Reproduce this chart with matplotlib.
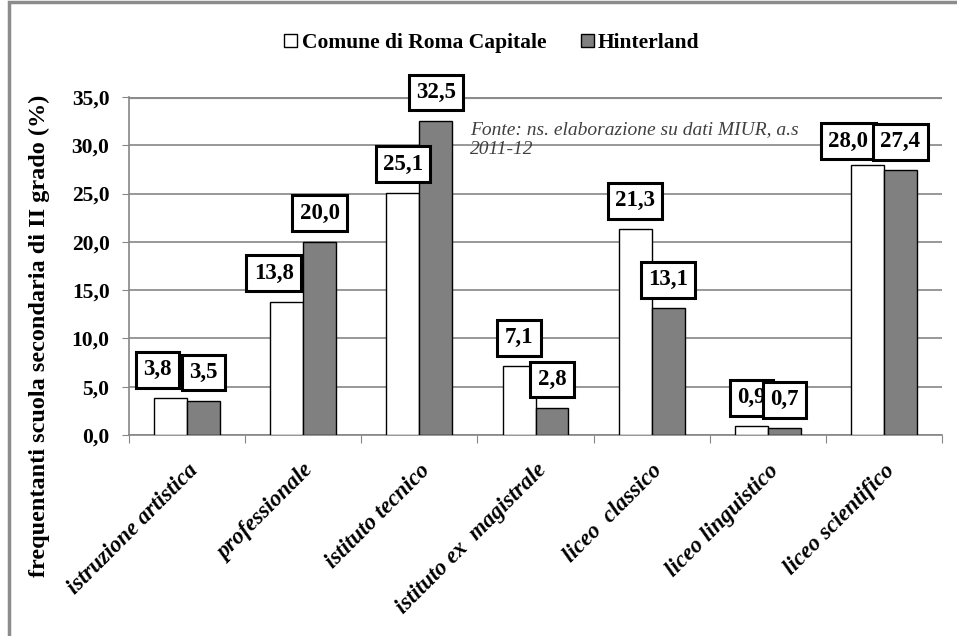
import matplotlib
matplotlib.use("Agg")
import matplotlib.pyplot as plt
from matplotlib.patches import Patch, Rectangle

# dati (ns. elaborazione su dati MIUR, a.s. 2011-12)
categorie = ["istruzione artistica", "professionale", "istituto tecnico",
             "istituto ex  magistrale", "liceo  classico", "liceo linguistico",
             "liceo scientifico"]
roma = [3.8, 13.8, 25.1, 7.1, 21.3, 0.9, 28.0]
hinterland = [3.5, 20.0, 32.5, 2.8, 13.1, 0.7, 27.4]
y_ticks = [0, 5, 10, 15, 20, 25, 30, 35]

# spostamenti manuali delle etichette (in pixel), come nel grafico originale
dx_roma = [-13, -13, 0, 0, 0, 0, -19]
dy_roma = [0, 0, 0, 0, 0, 0, -5]

plt.rcParams['font.family'] = ['Liberation Serif', 'DejaVu Serif']
plt.rcParams['font.weight'] = 'bold'

fig = plt.figure(figsize=(9.57, 6.36), dpi=100)
ax = fig.add_axes([129 / 957, 1 - 435 / 636, (942 - 129) / 957, (435 - 97) / 636])

# cornice grigia del grafico
fig.patches.append(Rectangle((9 / 957, -0.05), 1.1, 1.05 - 2 / 636, transform=fig.transFigure,
                             fill=False, edgecolor='#8c8c8c', linewidth=2.5, zorder=0))

x = list(range(len(categorie)))
w = 0.284
b1 = ax.bar([i - w / 2 for i in x], roma, w, color='white', edgecolor='black', linewidth=1, zorder=3)
b2 = ax.bar([i + w / 2 for i in x], hinterland, w, color='#808080', edgecolor='black', linewidth=1, zorder=3)

def etichetta(bar, v, dx, dy, z):
    ax.annotate(f"{v:.1f}".replace('.', ','),
                xy=(bar.get_x() + bar.get_width() / 2, bar.get_height()),
                xytext=(dx * 0.72, 13 + dy * 0.72), textcoords='offset points',
                ha='center', va='bottom', fontsize=16.5, fontweight='bold', zorder=z,
                bbox=dict(boxstyle='square,pad=0.32', facecolor='white', edgecolor='black', linewidth=2.2))

for i in x:
    etichetta(b1[i], roma[i], dx_roma[i], dy_roma[i], 5)
    etichetta(b2[i], hinterland[i], 0, 0, 6)

ax.set_ylim(0, 35)
ax.set_xlim(-0.5, len(categorie) - 0.5)
ax.set_yticks(y_ticks)
ax.set_yticklabels([f"{t:.1f}".replace('.', ',') for t in y_ticks], fontsize=15.5, fontweight='bold')
ax.yaxis.grid(True, color='#868686', linewidth=1.2)
ax.set_axisbelow(True)
ax.axhline(35, color='#8c8c8c', linewidth=3, zorder=2)

ax.set_xticks([i - 0.5 for i in range(len(categorie) + 1)])
ax.set_xticklabels([])
ax.set_xticks(x, minor=True)
ax.set_xticklabels(categorie, minor=True, rotation=45, ha='right', rotation_mode='anchor',
                   fontsize=16.5, fontweight='bold', fontstyle='italic')
ax.tick_params(axis='x', which='minor', length=0, pad=18)
ax.tick_params(axis='x', which='major', length=6, color='#868686')
ax.tick_params(axis='y', length=5, color='#868686', pad=9)

for s in ['top', 'right']:
    ax.spines[s].set_visible(False)
for s in ['left', 'bottom']:
    ax.spines[s].set_color('#868686')
    ax.spines[s].set_linewidth(1.2)

ax.set_ylabel("frequentanti scuola secondaria di II grado (%)", fontsize=17.5, fontweight='bold')
ax.yaxis.set_label_coords(-0.097, 0.293)

ax.text(470, 636 - 121, "Fonte: ns. elaborazione su dati MIUR, a.s\n2011-12",
        transform=None, fontsize=14, fontstyle='italic', fontweight='normal', color='#404040',
        ha='left', va='top', linespacing=1.25)

handles = [Patch(facecolor='white', edgecolor='black', linewidth=1),
           Patch(facecolor='#808080', edgecolor='black', linewidth=1)]
fig.legend(handles, ["Comune di Roma Capitale", "Hinterland"], loc='center',
           bbox_to_anchor=(492 / 957, 1 - 43 / 636), ncol=2, frameon=False,
           prop={'size': 15.5, 'weight': 'bold'}, handlelength=0.6, handleheight=0.6,
           handletextpad=0.2, columnspacing=1.6)

fig.savefig("out.png", dpi=100)
